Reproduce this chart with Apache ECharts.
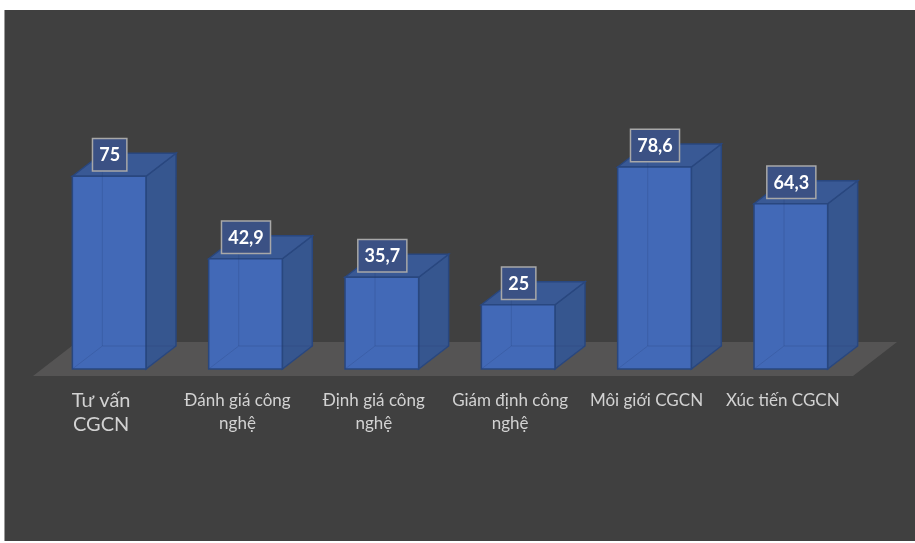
<!DOCTYPE html>
<html>
<head>
<meta charset="utf-8">
<script src="https://cdn.jsdelivr.net/npm/echarts@6/dist/echarts.min.js"></script>
<style>
  html, body { margin: 0; padding: 0; background: #ffffff; width: 915px; height: 543px; overflow: hidden; }
  #bg { position: absolute; left: 4px; top: 10px; width: 911px; height: 531px; background: #404040; border-left: 1px solid #9a9a9a; }
  #chart { position: absolute; left: 0; top: 0; width: 915px; height: 543px; }
</style>
</head>
<body>
<div id="bg"></div>
<div id="chart"></div>
<script>
const categories = ['Tư vấn\nCGCN', 'Đánh giá công\nnghệ', 'Định giá công\nnghệ', 'Giám định công\nnghệ', 'Môi giới CGCN', 'Xúc tiến CGCN'];
const values = [75, 42.9, 35.7, 25, 78.6, 64.3];

const DX = 30, DY = -23;
const FRONT = '#4269b7', SIDE = '#36568f', TOP = '#395995', EDGE = '#29477f';

function fmt(v) { return String(v).replace('.', ','); }

const chart = echarts.init(document.getElementById('chart'), null, { renderer: 'canvas' });

const option = {
  backgroundColor: 'transparent',
  animation: false,
  grid: { left: 41, right: 56, top: 112, bottom: 174 },
  xAxis: {
    type: 'category',
    data: categories,
    axisLine: { show: false },
    axisTick: { show: false },
    splitLine: { show: false },
    axisLabel: {
      interval: 0,
      color: '#d2d2d2',
      fontFamily: 'Lato, "Open Sans", sans-serif',
      fontSize: 17,
      lineHeight: 23,
      margin: 20,
      padding: [0, 16, 0, 0],
      formatter: function (v, i) { return i === 0 ? '{b|' + v.split('\n').join('}\n{b|') + '}' : v; },
      rich: { b: { fontSize: 20, lineHeight: 24, color: '#d2d2d2', fontFamily: 'Lato, "Open Sans", sans-serif' } }
    }
  },
  yAxis: { type: 'value', min: 0, max: 100, show: false, splitLine: { show: false } },
  series: [
    {
      type: 'custom',
      z: 1,
      silent: true,
      data: [[0]],
      renderItem: function (params, api) {
        const cs = params.coordSys;
        const fy = cs.y + cs.height + 7;
        const x0 = cs.x - 8, x1 = cs.x + cs.width - 6;
        return {
          type: 'polygon',
          shape: { points: [[x0, fy], [x1, fy], [x1 + 44, fy - 34], [x0 + 44, fy - 34]] },
          style: { fill: '#555454' }
        };
      }
    },
    {
      type: 'custom',
      z: 2,
      data: values.map(function (v, i) { return [i, v]; }),
      renderItem: function (params, api) {
        const idx = api.value(0), val = api.value(1);
        const p0 = api.coord([idx, 0]);
        const p1 = api.coord([idx, val]);
        const w = api.size([1, 0])[0] * 0.54;
        const xl = p0[0] - w / 2, xr = p0[0] + w / 2;
        const top = p1[1], bot = p0[1];
        const edgeStyle = { stroke: EDGE, lineWidth: 1.5 };
        const hidden = { stroke: 'rgba(35,60,115,0.22)', lineWidth: 1 };
        return {
          type: 'group',
          children: [
            { type: 'polygon', shape: { points: [[xr, top], [xr + DX, top + DY], [xr + DX, bot + DY], [xr, bot]] },
              style: Object.assign({ fill: SIDE }, edgeStyle) },
            { type: 'polygon', shape: { points: [[xl, top], [xl + DX, top + DY], [xr + DX, top + DY], [xr, top]] },
              style: Object.assign({ fill: TOP }, edgeStyle) },
            { type: 'rect', shape: { x: xl, y: top, width: w, height: bot - top },
              style: Object.assign({ fill: FRONT }, edgeStyle) },
            { type: 'line', shape: { x1: xl + DX, y1: top + DY, x2: xl + DX, y2: bot + DY }, style: hidden },
            { type: 'line', shape: { x1: xl, y1: bot, x2: xl + DX, y2: bot + DY }, style: hidden },
            { type: 'line', shape: { x1: xl + DX, y1: bot + DY, x2: xr + DX, y2: bot + DY }, style: hidden },
            { type: 'text', z2: 10,
              style: {
                text: fmt(val), x: p0[0] + 0.5, y: top - 6,
                align: 'center', verticalAlign: 'bottom',
                fill: '#ffffff', fontFamily: 'Lato, "Open Sans", sans-serif', fontWeight: 'bold', fontSize: 18,
                lineHeight: 20,
                backgroundColor: '#3b5184', borderColor: '#a8a8a8', borderWidth: 1.5,
                padding: [6, 6, 5, 6]
              } }
          ]
        };
      }
    }
  ]
};
chart.setOption(option);
</script>
</body>
</html>
